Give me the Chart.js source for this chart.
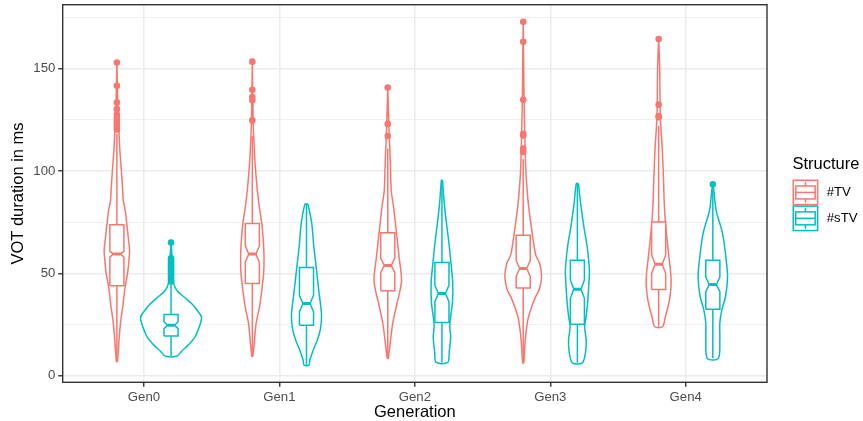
<!DOCTYPE html>
<html><head><meta charset="utf-8">
<script src="https://cdn.jsdelivr.net/npm/chart.js@4.4.1/dist/chart.umd.min.js"></script>
<style>html,body{margin:0;padding:0;background:#fff}canvas{display:block}</style>
</head><body>
<canvas id="c" width="863" height="421"></canvas>
<script>
// ---------------- data ----------------
const categories = ['Gen0', 'Gen1', 'Gen2', 'Gen3', 'Gen4'];
const seriesLabels = ['#TV', '#sTV'];
const yTickLabels = [0, 50, 100, 150];
const yGridValues = [0, 25, 50, 75, 100, 125, 150, 175];

// boxplot statistics (ms)
const tvQ1        = [43.9, 45.1, 41.5, 42.9, 42.1];
const tvMedian    = [59.4, 59.4, 53.9, 52.4, 54.5];
const tvQ3        = [73.7, 74.3, 69.8, 68.6, 75.1];
const tvNotchLo   = [57.9, 55.5, 50.3, 48.5, 50.0];
const tvNotchHi   = [60.9, 63.4, 57.5, 56.3, 59.0];
const tvWhiskerLo = [7.0, 9.6, 8.5, 6.3, 23.9];
const tvWhiskerHi = [118, 117, 111, 106, 122];
const tvOutliers  = [
  [153, 141.6, 133.4, 130.2, 127.5, 126, 124.5, 123, 121.5, 120.3],
  [153.4, 139.7, 136.1, 134.5, 124.7],
  [140.8, 123, 117.1],
  [172.9, 163.1, 134.8, 118.2, 117.3, 110.9, 109.3],
  [164.4, 132.4, 126.8, 126.2]
];

const stvQ1        = [19.4, 24.6, 26.0, 25.2, 32.5];
const stvMedian    = [24.7, 35.3, 40.2, 42.3, 44.6];
const stvQ3        = [29.9, 52.9, 55.3, 56.4, 56.4];
const stvNotchLo   = [23.0, 31.3, 36.2, 37.8, 41.0];
const stvNotchHi   = [26.4, 39.3, 44.2, 46.8, 48.2];
const stvWhiskerLo = [9.6, 5.2, 6.5, 6.3, 8.5];
const stvWhiskerHi = [45.5, 83.8, 95.5, 93.9, 91.0];
const stvOutliers  = [
  [65.1, 57.3, 56.2, 55, 54, 53, 52, 51, 50, 49, 48, 47, 46],
  [], [], [],
  [93.5]
];

// violin density profiles: [value (ms), half-width in hundredths of a category band]
const tvViolin = [
  [[153,0],[130,0.74],[120,1.48],[110,2.22],[100,3.32],[90.6,4.28],[85.7,4.65],[80.8,6.13],[73.7,7.39],[67,8.49],[61.3,9.38],[56,8.86],[50.5,7.98],[42.4,5.91],[34.3,4.43],[26.2,2.73],[18,1.62],[7,0.37]],
  [[153.4,0],[125,0.59],[118,0.96],[110,1.48],[102,2.22],[90.6,3.69],[82.4,5.17],[74.3,7.02],[66,8.12],[58.1,8.64],[50,8.35],[41.9,7.02],[33.8,5.32],[25.7,2.81],[17.6,1.62],[9.6,0.37]],
  [[140.8,0],[123,0.74],[117,1.11],[105,1.85],[90.6,2.58],[82.4,4.28],[69.8,6.43],[58.1,8.35],[46.7,10.19],[40,8.49],[35.3,6.79],[25.7,3.69],[17.6,2.07],[8.5,0.37]],
  [[172.9,0],[150,0.37],[130,0.74],[110,1.48],[99.4,1.99],[83.2,3.91],[68.6,6.87],[59,9.23],[54.8,12.19],[48.3,13.52],[42,11.82],[38.5,9.08],[32,5.39],[27,3.32],[17,1.48],[6.3,0.37]],
  [[164.4,0],[150.8,0.74],[126.4,1.26],[110,2.73],[93.9,3.69],[85.7,4.06],[75.1,4.95],[61.3,7.02],[46.7,9.23],[37,7.98],[28.8,4.95],[23.9,2.81]]
];
const stvViolin = [
  [[65,0],[55,1.0],[45,2.0],[41.4,4.65],[38.2,10.1],[34.9,15.7],[31.6,19.7],[28.7,22.5],[26,21.9],[21.9,19.7],[18.6,17.4],[15.4,13.3],[12.1,8.0],[9.6,4.3]],
  [[83.8,1.11],[74.3,3.91],[63.6,5.32],[52.9,7.16],[41.9,9.01],[29.8,11.08],[23,10.34],[17.4,7.98],[12.5,4.95],[7.6,2.44],[5.2,1.85]],
  [[95.5,0.37],[84.3,1.7],[74.6,3.32],[64.8,5.17],[55.1,6.65],[45.4,7.98],[35.6,7.75],[29.1,6.43],[23.9,5.76],[19,6.43],[11.7,5.39],[6.5,4.28]],
  [[93.9,0.74],[84.1,2.44],[72.7,4.8],[63,7.24],[51.6,8.86],[43.5,8.35],[35.4,7.53],[28.9,6.43],[23.9,5.39],[17.4,6.5],[11.7,6.06],[6.3,3.69]],
  [[93.5,0],[90.6,0.74],[80.8,2.44],[69.5,7.16],[58.1,9.6],[48.4,10.86],[38.7,9.38],[32.2,6.65],[25.7,5.17],[17.6,5.17],[8.5,4.06]]
];

// ---------------- geometry / style ----------------
const DODGE = 0.2, BOX_HALF = 0.052, NOTCH_HALF = 0.026, VIOLIN_UNIT = 0.01;
const COLORS = ['#F8766D', '#00BFC4'];
const FONT = "'Liberation Sans', Arial, Helvetica, sans-serif";
Chart.defaults.font.family = FONT;

const series = [
  {label: seriesLabels[0], color: COLORS[0], offset: -DODGE, violin: tvViolin, q1: tvQ1, med: tvMedian, q3: tvQ3, nlo: tvNotchLo, nhi: tvNotchHi, wlo: tvWhiskerLo, whi: tvWhiskerHi, out: tvOutliers},
  {label: seriesLabels[1], color: COLORS[1], offset: DODGE, violin: stvViolin, q1: stvQ1, med: stvMedian, q3: stvQ3, nlo: stvNotchLo, nhi: stvNotchHi, wlo: stvWhiskerLo, whi: stvWhiskerHi, out: stvOutliers}
];

const datasets = [];
const lineBase = {type: 'line', pointRadius: 0, borderWidth: 1.5, fill: false, tension: 0};
series.forEach(s => {
  categories.forEach((cat, i) => {
    const cx = i + s.offset;
    const prof = s.violin[i];
    const right = prof.map(([v, w]) => ({x: cx + w * VIOLIN_UNIT, y: v}));
    const left = prof.slice().reverse().map(([v, w]) => ({x: cx - w * VIOLIN_UNIT, y: v}));
    datasets.push(Object.assign({}, lineBase, {data: [...right, ...left, right[0]], borderColor: s.color, backgroundColor: '#ffffff', fill: 'shape', tension: 0.3, borderJoinStyle: 'round', order: 4}));
    datasets.push(Object.assign({}, lineBase, {data: [{x: cx, y: s.q3[i]}, {x: cx, y: s.whi[i]}], borderColor: s.color, order: 3}));
    datasets.push(Object.assign({}, lineBase, {data: [{x: cx, y: s.q1[i]}, {x: cx, y: s.wlo[i]}], borderColor: s.color, order: 3}));
    const b = BOX_HALF, n = NOTCH_HALF;
    datasets.push(Object.assign({}, lineBase, {data: [
      {x: cx - b, y: s.q1[i]}, {x: cx - b, y: s.nlo[i]}, {x: cx - n, y: s.med[i]}, {x: cx - b, y: s.nhi[i]}, {x: cx - b, y: s.q3[i]},
      {x: cx + b, y: s.q3[i]}, {x: cx + b, y: s.nhi[i]}, {x: cx + n, y: s.med[i]}, {x: cx + b, y: s.nlo[i]}, {x: cx + b, y: s.q1[i]},
      {x: cx - b, y: s.q1[i]}], borderColor: s.color, backgroundColor: '#ffffff', fill: 'shape', borderJoinStyle: 'miter', order: 2}));
    datasets.push(Object.assign({}, lineBase, {data: [{x: cx - n, y: s.med[i]}, {x: cx + n, y: s.med[i]}], borderColor: s.color, borderWidth: 3, order: 1}));
    datasets.push({type: 'scatter', data: s.out[i].map(v => ({x: cx, y: v})), backgroundColor: s.color, borderColor: s.color, borderWidth: 0, pointRadius: 3.3, order: 0});
  });
});

const panelBorder = {
  id: 'panelBorder',
  afterDatasetsDraw(chart) {
    const {ctx, chartArea: a} = chart;
    ctx.save();
    ctx.strokeStyle = '#333333';
    ctx.lineWidth = 1.4;
    ctx.strokeRect(a.left, a.top, a.right - a.left, a.bottom - a.top);
    ctx.restore();
  }
};

const ggLegend = {
  id: 'ggLegend',
  afterDraw(chart) {
    const ctx = chart.ctx;
    ctx.save();
    ctx.textAlign = 'left';
    ctx.textBaseline = 'middle';
    ctx.fillStyle = '#000';
    ctx.font = '16.5px ' + FONT;
    ctx.fillText('Structure', 792.5, 164.2);
    const x0 = 792.5, w = 25.9, h = 25.9;
    series.forEach((s, k) => {
      const y0 = 179.5 + k * h;
      ctx.strokeStyle = s.color;
      ctx.lineWidth = 1.5;
      ctx.fillStyle = '#fff';
      ctx.fillRect(x0 + 0.75, y0 + 0.75, w - 1.5, h - 1.5);
      ctx.strokeRect(x0 + 0.75, y0 + 0.75, w - 1.5, h - 1.5);
      const cx = x0 + w / 2;
      ctx.beginPath();
      ctx.moveTo(cx, y0 + 0.1 * h); ctx.lineTo(cx, y0 + 0.25 * h);
      ctx.moveTo(cx, y0 + 0.75 * h); ctx.lineTo(cx, y0 + 0.9 * h);
      ctx.stroke();
      ctx.strokeRect(x0 + 0.125 * w, y0 + 0.25 * h, 0.75 * w, 0.5 * h);
      ctx.beginPath();
      ctx.moveTo(x0 + 0.125 * w, y0 + 0.5 * h); ctx.lineTo(x0 + 0.875 * w, y0 + 0.5 * h);
      ctx.stroke();
      ctx.fillStyle = '#000';
      ctx.font = '13.2px ' + FONT;
      ctx.fillText(s.label, 826.7, y0 + h / 2);
    });
    ctx.restore();
  }
};

new Chart(document.getElementById('c'), {
  type: 'scatter',
  data: {datasets},
  plugins: [panelBorder, ggLegend],
  options: {
    responsive: false,
    animation: false,
    events: [],
    layout: {padding: {top: 4.7, right: 96, left: 0, bottom: 0}},
    plugins: {legend: {display: false}, tooltip: {enabled: false}},
    scales: {
      x: {
        type: 'linear', min: -0.6, max: 4.6,
        afterBuildTicks: sc => { sc.ticks = categories.map((c, i) => ({value: i})); },
        afterFit: sc => { sc.height = 38.7; sc.paddingLeft = 0; sc.paddingRight = 0; },
        ticks: {callback: v => categories[v] !== undefined ? categories[v] : '', color: '#4D4D4D', font: {size: 13.2}, padding: 2.4, maxRotation: 0, autoSkip: false},
        grid: {color: '#EBEBEB', lineWidth: 1.5, tickColor: '#333333', tickLength: 4.4, tickWidth: 1.4},
        border: {display: false},
        title: {display: true, text: 'Generation', color: '#000', font: {size: 16.5}, padding: {top: 0, bottom: -1.5}}
      },
      y: {
        type: 'linear', min: -3.2, max: 181.2,
        afterBuildTicks: sc => { sc.ticks = yGridValues.map(v => ({value: v})); },
        afterFit: sc => { sc.width = 62.7; sc.paddingTop = 0; sc.paddingBottom = 0; },
        ticks: {callback: v => yTickLabels.includes(v) ? String(v) : '', color: '#4D4D4D', font: {size: 13.2}, padding: 3, autoSkip: false},
        grid: {
          color: '#EBEBEB',
          lineWidth: c => (c.tick && yTickLabels.includes(c.tick.value)) ? 1.5 : 0.75,
          tickColor: c => (c.tick && yTickLabels.includes(c.tick.value)) ? '#333333' : 'rgba(0,0,0,0)',
          tickLength: 4.4, tickWidth: 1.4
        },
        border: {display: false},
        title: {display: true, text: 'VOT duration in ms', color: '#000', font: {size: 16.5}, padding: {top: 8.6, bottom: 0}}
      }
    }
  }
});
</script>
</body></html>
